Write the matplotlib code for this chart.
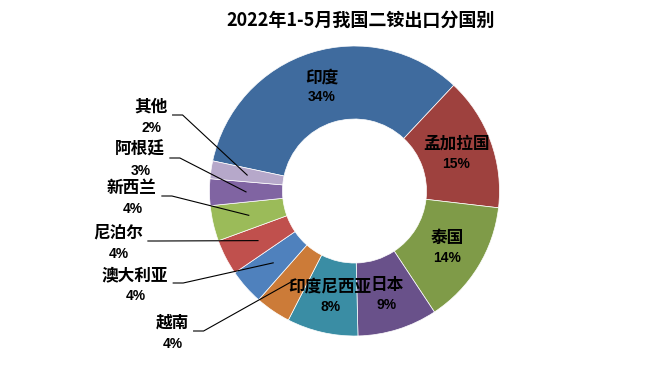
import numpy as np
import matplotlib
matplotlib.use("Agg")
import matplotlib.pyplot as plt

plt.rcParams['font.family'] = ['Noto Sans CJK SC', 'DejaVu Sans']

# data (clockwise from the left edge)
countries = ["印度", "孟加拉国", "泰国", "日本", "印度尼西亚", "越南",
             "澳大利亚", "尼泊尔", "新西兰", "阿根廷", "其他"]
shares = [34, 15, 14, 9, 8, 4, 4, 4, 4, 3, 2]
colors = ["#3F6B9E", "#9E413E", "#7F9B48", "#69518A", "#3A8DA4", "#CC7B38",
          "#4F81BD", "#C0504D", "#9BBB59", "#8064A2", "#B6A8CA"]
title = "2022年1-5月我国二铵出口分国别"

W, H = 659, 378
CX, CY = 354.5, 378 - 191   # donut centre in pixel-like data coords
R_OUT, R_IN = 145, 72
START = 168

# outside labels (name centre x, name y from top) for the small slices
outside = {
    "越南": (172, 323),
    "澳大利亚": (135, 275),
    "尼泊尔": (118, 233),
    "新西兰": (132, 188),
    "阿根廷": (140, 150),
    "其他": (151, 107),
}

fig = plt.figure(figsize=(W / 100, H / 100), dpi=100)
ax = fig.add_axes([0, 0, 1, 1])

wedges, _ = ax.pie(shares, colors=colors, startangle=START, counterclock=False,
                   center=(CX, CY), radius=R_OUT,
                   wedgeprops=dict(width=R_OUT - R_IN, edgecolor="white", linewidth=0.5))
ax.set_xlim(0, W)
ax.set_ylim(0, H)
ax.set_aspect("equal")
ax.axis("off")

r_mid = (R_OUT + R_IN) / 2
for w, name, val in zip(wedges, countries, shares):
    ang = np.deg2rad((w.theta1 + w.theta2) / 2)
    mx = CX + r_mid * np.cos(ang)
    my = CY + r_mid * np.sin(ang)
    pct = f"{val}%"
    if name in outside:
        tx, ty = outside[name]
        ty = H - ty
        ax.text(tx, ty, name, ha="center", va="center", fontsize=12,
                fontweight="bold", color="black")
        ax.text(tx + 1, ty - 21, pct, ha="center", va="center", fontsize=10,
                fontweight="bold", family="Liberation Sans", color="black")
        half = len(name) * 8.3
        lx = tx + half + 5
        ly = ty - 8
        ax.plot([lx, lx + 10, mx], [ly, ly, my], color="black", lw=0.8)
    else:
        ax.text(mx, my + 10, name, ha="center", va="center", fontsize=12,
                fontweight="bold", color="black")
        ax.text(mx, my - 10, pct, ha="center", va="center", fontsize=10,
                fontweight="bold", family="Liberation Sans", color="black")

ax.text(361, H - 20, title, ha="center", va="center", fontsize=13, fontweight="bold")

fig.savefig("out.png", dpi=100)
